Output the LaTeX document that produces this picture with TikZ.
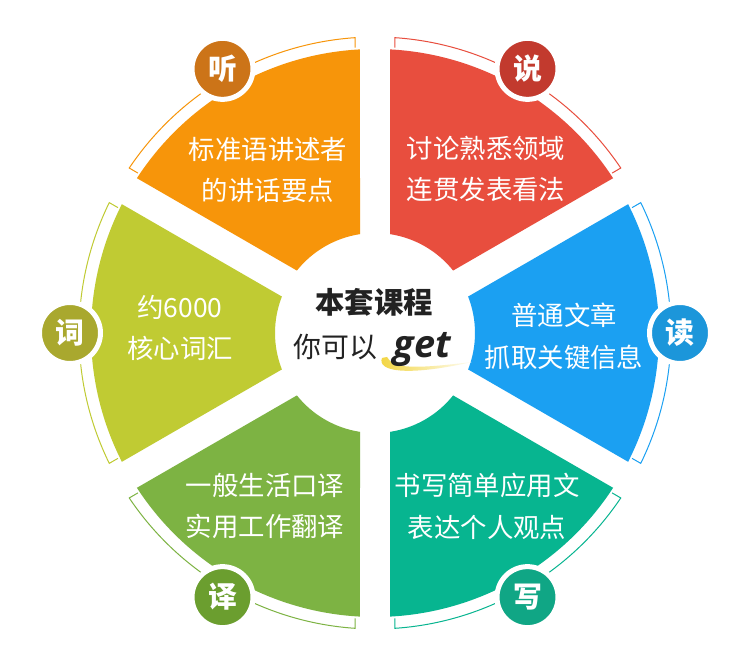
\documentclass[tikz,border=0pt]{standalone}
\usepackage{fontspec}
\usepackage{xcolor}
\usepackage{tikz}
\usetikzlibrary{positioning,calc}
\newfontfamily\cjk{Noto Sans CJK SC}
\newfontfamily\getfont{Open Sans}
\definecolor{tingF}{HTML}{F7950A}
\definecolor{tingB}{HTML}{CC7418}
\definecolor{shuoF}{HTML}{E84E3E}
\definecolor{shuoB}{HTML}{C23A2E}
\definecolor{duF}{HTML}{1BA0F2}
\definecolor{duB}{HTML}{1C96DA}
\definecolor{xieF}{HTML}{07B590}
\definecolor{xieB}{HTML}{10A685}
\definecolor{yiF}{HTML}{7DB343}
\definecolor{yiB}{HTML}{6B9E2F}
\definecolor{ciF}{HTML}{C0CB33}
\definecolor{ciB}{HTML}{A9A82E}
\definecolor{swoosh}{HTML}{F2D43C}
\definecolor{darktext}{HTML}{222222}

\begin{document}
\begin{tikzpicture}[x=1bp,y=1bp,
    secttext/.style={text=white,align=center,font=\cjk\fontsize{26.5}{42}\selectfont},
    badge/.style={circle,fill=#1,draw=white,line width=5bp,minimum size=61bp,inner sep=0pt,
        text=white,font=\cjk\bfseries\fontsize{29}{29}\selectfont}]
    \useasboundingbox[fill=white] (0,0) rectangle (750,660);
    \coordinate (O) at (375,327);
    \foreach \m/\fc/\bc/\bt/\nm/\tx/\ty/\la/\lb in {
        120/tingF/tingB/听/ting/-107/163/标准语讲述者/的讲话要点,
        60/shuoF/shuoB/说/shuo/111/164/讨论熟悉领域/连贯发表看法,
        0/duF/duB/读/du/189/-3/普通文章/抓取关键信息,
        -60/xieF/xieB/写/xie/112/-173/书写简单应用文/表达个人观点,
        -120/yiF/yiB/译/yi/-110/-173/一般生活口译/实用工作翻译,
        180/ciF/ciB/词/ci/-195/5/约6000/核心词汇}{
        \fill[\fc] ($(O)+(\m+30-3.03:284bp)$) arc[start angle=\m+30-3.03,end angle=\m-30+3.03,radius=284bp]
            -- ($(O)+(\m-30+8.63:100bp)$) arc[start angle=\m-30+8.63,end angle=\m+30-8.63,radius=100bp] -- cycle;
        \draw[\fc,line width=1bp] ($(O)+(\m+30-4:286bp)$) -- ($(O)+(\m+30-3.87:296bp)$)
            arc[start angle=\m+30-3.87,end angle=\m-30+3.87,radius=296bp] -- ($(O)+(\m-30+4:286bp)$);
        \node[badge=\bc] (badge-\nm) at ($(O)+(\m:305bp)$) {\bt};
        \node[secttext] (text-\nm) at ($(O)+(\tx,\ty)$) {\la\\\lb};
    }
    \shade[left color=swoosh,right color=swoosh!5] (382,302) .. controls (377,289) and (405,283) .. (472,298)
        .. controls (415,291) and (393,291) .. (387,303) -- cycle;
    \node[text=darktext,font=\cjk\bfseries\fontsize{29.5}{29.5}\selectfont] (title) at (374,358) {本套课程};
    \node[text=darktext,font=\cjk\fontsize{28}{28}\selectfont,anchor=base east] (ni) at (381,302) {你可以};
    \node[text=darktext,font=\getfont\bfseries\itshape\fontsize{38}{38}\selectfont,anchor=base west] (get) at (390,302) {get};
\end{tikzpicture}
\end{document}
